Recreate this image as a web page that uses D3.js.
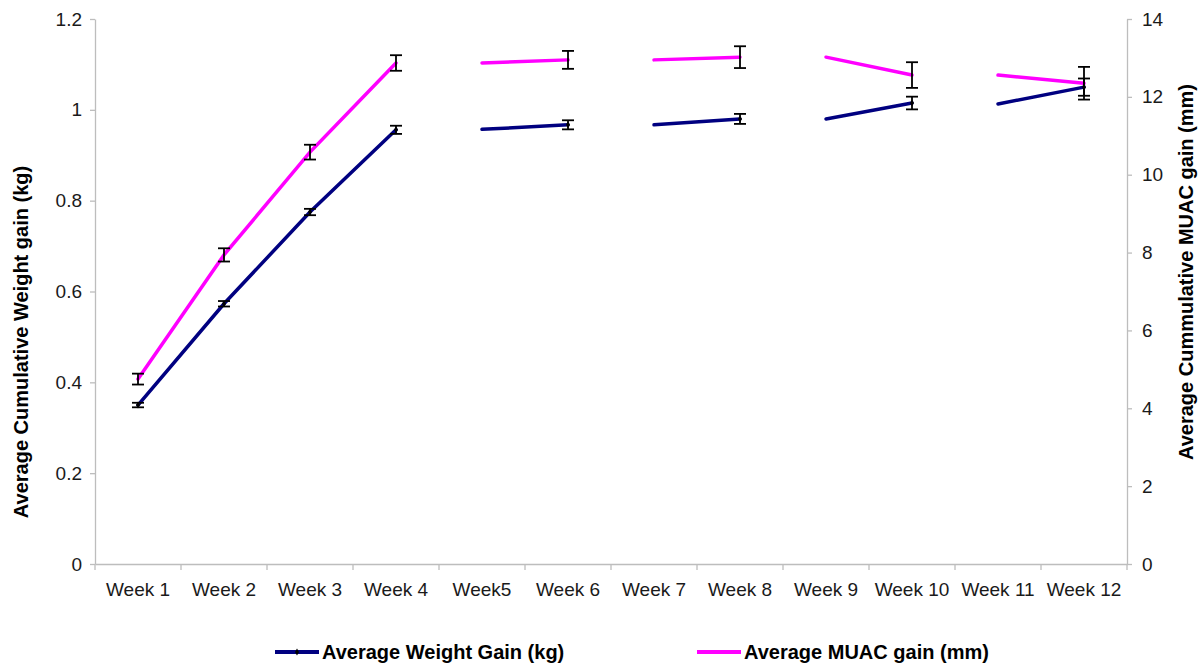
<!DOCTYPE html>
<html><head><meta charset="utf-8">
<script src="https://cdn.jsdelivr.net/npm/d3@7/dist/d3.min.js"></script>
<style>
body{margin:0;background:#fff;}
text{font-family:"Liberation Sans",Arial,sans-serif;}
</style>
</head><body>
<svg id="chart" width="1202" height="666"></svg>
<script>
const weeks = ["Week 1","Week 2","Week 3","Week 4","Week5","Week 6","Week 7","Week 8","Week 9","Week 10","Week 11","Week 12"];
const segment = [1,1,1,1,2,2,3,3,4,4,5,5];
const weight = [0.350,0.573,0.775,0.956,0.957,0.967,0.967,0.980,0.980,1.015,1.013,1.050];
const weightErr = [0.005,0.006,0.007,0.009,null,0.010,null,0.011,null,0.014,null,0.019];
const muac = [4.75,7.94,10.58,12.87,12.87,12.95,12.95,13.02,13.02,12.56,12.56,12.35];
const muacErr = [0.14,0.17,0.19,0.20,null,0.23,null,0.28,null,0.33,null,0.42];
const leftTicks = [0,0.2,0.4,0.6,0.8,1,1.2];
const rightTicks = [0,2,4,6,8,10,12,14];
const leftTitle = "Average Cumulative Weight gain (kg)";
const rightTitle = "Average Cummulative MUAC gain (mm)";
const seriesNames = ["Average Weight Gain (kg)","Average MUAC gain (mm)"];

const svg = d3.select("#chart");
const L = 95, R = 1127, T = 19, B = 564;
const axisColor = "#bdbdbd", textColor = "#1a1a1a";
const blue = "#000080", pink = "#ff00ff";

const x = d3.scaleBand().domain(weeks).range([L, R]);
const cx = w => x(w) + x.bandwidth()/2;
const yL = d3.scaleLinear().domain([0,1.2]).range([B, T]);
const yR = d3.scaleLinear().domain([0,14]).range([B, T]);

function styleAxis(g){
  g.selectAll("path.domain").attr("stroke", axisColor).attr("stroke-width",1.3);
  g.selectAll(".tick line").attr("stroke", axisColor).attr("stroke-width",1.3);
  g.selectAll(".tick text").attr("fill", textColor).style("font-size","19px").style("font-family","'Liberation Sans',Arial,sans-serif");
}

// left axis
svg.append("g").attr("transform",`translate(${L},0)`)
  .call(d3.axisLeft(yL).tickValues(leftTicks).tickSize(5).tickPadding(8).tickSizeOuter(0).tickFormat(d=>String(d)))
  .call(styleAxis);
// right axis
svg.append("g").attr("transform",`translate(${R},0)`)
  .call(d3.axisRight(yR).tickValues(rightTicks).tickSize(5).tickPadding(10).tickSizeOuter(0).tickFormat(d=>String(d)))
  .call(styleAxis);
// bottom axis (labels)
svg.append("g").attr("transform",`translate(0,${B})`)
  .call(d3.axisBottom(x).tickSize(0).tickPadding(19).tickSizeOuter(0))
  .call(styleAxis);
// category boundary ticks
const bounds = weeks.map(w => x(w)).concat([R]);
svg.append("g").selectAll("line").data(bounds).join("line")
  .attr("x1", d=>d).attr("x2", d=>d).attr("y1", B).attr("y2", B+6)
  .attr("stroke", axisColor).attr("stroke-width",1.3);

// data rows
const rows = weeks.map((w,i)=>({w, seg:segment[i], wt:weight[i], we:weightErr[i], mu:muac[i], me:muacErr[i]}));
const groups = d3.groups(rows, d=>d.seg).map(g=>g[1]);

const lineMu = d3.line().x(d=>cx(d.w)).y(d=>yR(d.mu));
const lineWt = d3.line().x(d=>cx(d.w)).y(d=>yL(d.wt));

svg.append("g").selectAll("path").data(groups).join("path")
  .attr("d", lineMu).attr("fill","none").attr("stroke",pink).attr("stroke-width",3.5).attr("stroke-linecap","round");
svg.append("g").selectAll("path").data(groups).join("path")
  .attr("d", lineWt).attr("fill","none").attr("stroke",blue).attr("stroke-width",3.5).attr("stroke-linecap","round");

// markers on weight points
svg.append("g").selectAll("path").data(rows.filter(d=>d.we!=null)).join("path")
  .attr("d", d3.symbol(d3.symbolDiamond, 14)())
  .attr("transform", d=>`translate(${cx(d.w)},${yL(d.wt)})`).attr("fill","#000");

// error bars
function errBars(data, yS, v, e){
  const g = svg.append("g").attr("stroke","#000").attr("stroke-width",1.8);
  const dd = data.filter(d=>d[e]!=null);
  g.selectAll("line.v").data(dd).join("line").attr("class","v")
    .attr("x1",d=>cx(d.w)).attr("x2",d=>cx(d.w))
    .attr("y1",d=>yS(d[v]-d[e])).attr("y2",d=>yS(d[v]+d[e]));
  g.selectAll("line.t").data(dd).join("line").attr("class","t")
    .attr("x1",d=>cx(d.w)-6).attr("x2",d=>cx(d.w)+6)
    .attr("y1",d=>yS(d[v]+d[e])).attr("y2",d=>yS(d[v]+d[e]));
  g.selectAll("line.b").data(dd).join("line").attr("class","b")
    .attr("x1",d=>cx(d.w)-6).attr("x2",d=>cx(d.w)+6)
    .attr("y1",d=>yS(d[v]-d[e])).attr("y2",d=>yS(d[v]-d[e]));
}
errBars(rows, yR, "mu", "me");
errBars(rows, yL, "wt", "we");

// axis titles
svg.append("text").attr("transform",`translate(28,342) rotate(-90)`)
  .attr("text-anchor","middle").attr("font-weight","bold").attr("font-size",20).attr("fill","#000").text(leftTitle);
svg.append("text").attr("transform",`translate(1193,272) rotate(-90)`)
  .attr("text-anchor","middle").attr("font-weight","bold").attr("font-size",20).attr("fill","#000").text(rightTitle);

// legend
const legend = [{name:seriesNames[0], color:blue, x:275, dot:true},{name:seriesNames[1], color:pink, x:697, dot:false}];
const lg = svg.append("g");
legend.forEach(it=>{
  lg.append("line").attr("x1",it.x).attr("x2",it.x+44).attr("y1",652).attr("y2",652)
    .attr("stroke",it.color).attr("stroke-width",4);
  if(it.dot) lg.append("path").attr("d", d3.symbol(d3.symbolDiamond, 14)()).attr("transform",`translate(${it.x+22},652)`).attr("fill","#000");
  lg.append("text").attr("x",it.x+47).attr("y",659).attr("font-weight","bold").attr("font-size",20).attr("fill","#000").text(it.name);
});
</script>
</body></html>
